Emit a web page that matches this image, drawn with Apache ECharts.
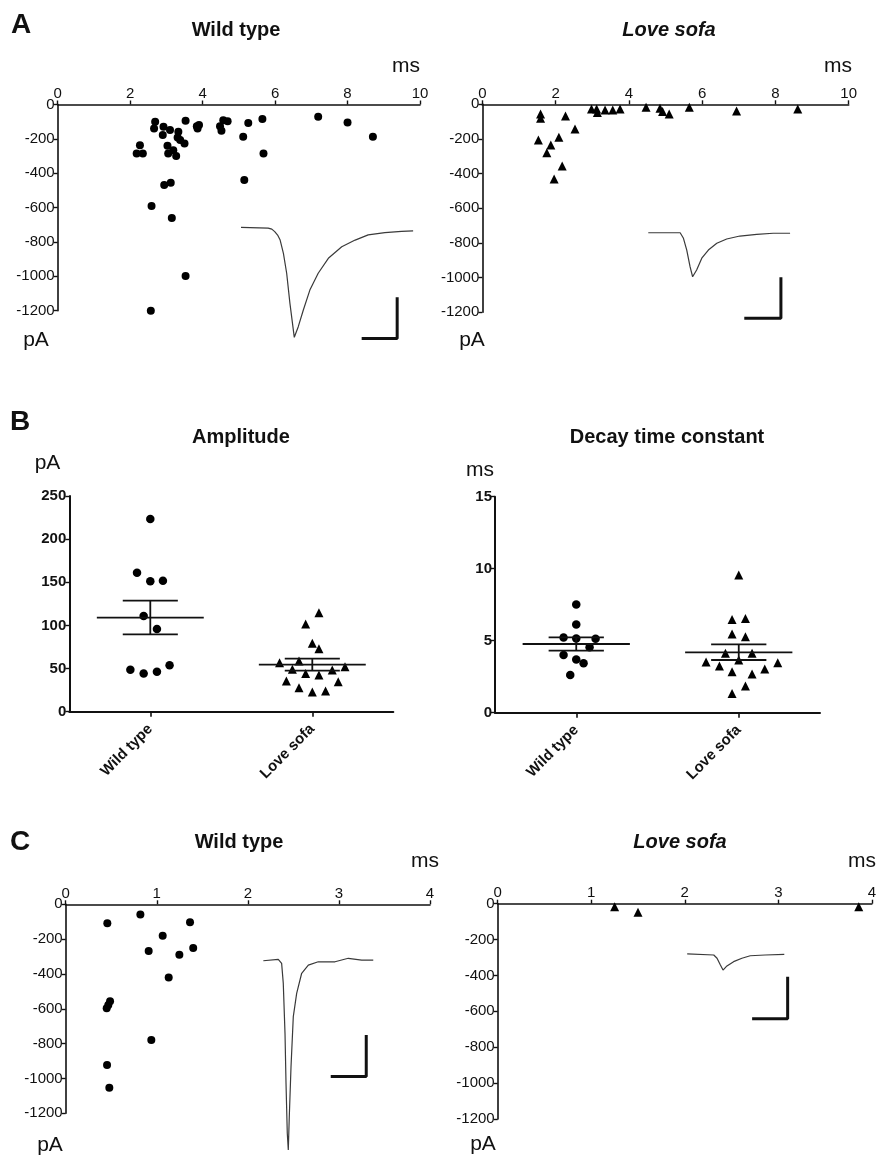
<!DOCTYPE html>
<html><head><meta charset="utf-8">
<script src="https://cdn.jsdelivr.net/npm/echarts@6/dist/echarts.min.js"></script>
<style>html,body{margin:0;padding:0;background:#fff}#c{width:879px;height:1162px}</style>
</head><body><div id="c"></div><script>
// ---------- Panel A : wild type (time to peak ms vs amplitude pA) ----------
const aWtTime = [2.69,2.66,2.92,2.90,3.10,3.33,3.53,3.84,3.86,3.90,4.57,4.69,4.48,4.52,5.26,5.65,7.19,8.00,8.70,5.12,5.68,5.15,2.27,2.18,2.35,3.03,3.05,3.19,3.27,3.31,3.38,3.50,2.94,3.12,2.59,3.15,3.53,2.57];
const aWtAmp  = [-101,-140,-130,-178,-149,-159,-95,-126,-140,-120,-91,-97,-126,-153,-107,-85,-72,-105,-188,-188,-285,-440,-237,-285,-285,-240,-285,-266,-300,-192,-207,-227,-469,-456,-591,-661,-998,-1200];
// ---------- Panel A : Love sofa ----------
const aLsTime = [1.59,1.59,2.27,2.53,1.53,2.09,1.87,1.76,2.18,1.96,2.98,3.12,3.14,3.35,3.56,3.76,4.47,4.85,4.92,5.10,5.65,6.94,8.61];
const aLsAmp  = [-56,-81,-67,-142,-206,-190,-235,-279,-356,-431,-27,-27,-48,-33,-33,-27,-17,-23,-42,-56,-17,-38,-27];
// example traces (in the panel's own ms / pA units)
const aWtTraceT = [5.06,5.81,5.91,5.99,6.07,6.14,6.23,6.32,6.41,6.53,6.64,6.78,6.96,7.19,7.47,7.84,8.21,8.57,9.03,9.49,9.81];
const aWtTraceI = [-715,-719,-725,-740,-760,-789,-866,-982,-1157,-1355,-1293,-1196,-1080,-982,-895,-828,-789,-759,-746,-738,-736];
const aLsTraceT = [4.53,5.40,5.49,5.58,5.67,5.74,5.85,5.99,6.17,6.40,6.67,7.03,7.49,7.94,8.40];
const aLsTraceI = [-741,-741,-773,-841,-937,-995,-956,-888,-841,-802,-777,-760,-750,-744,-744];
const aWtBarT = [9.37,9.37,8.39], aWtBarI = [-1122,-1362,-1362];
const aLsBarT = [8.15,8.15,7.15], aLsBarI = [-998,-1235,-1235];

// ---------- Panel B ----------
const bCategories = ['Wild type','Love sofa'];
const bWtAmp    = [223.3,161.1,151.1,151.9,110.9,95.8,48.7,44.4,46.4,53.7];
const bWtAmpJit = [0,-0.082,0,0.078,-0.041,0.041,-0.123,-0.041,0.041,0.119];
const bLsAmp    = [114.8,101.6,79.2,73.0,56.8,58.7,52.2,49.1,44.4,42.5,48.3,35.5,34.8,27.8,22.8,24.0];
const bLsAmpJit = [0.041,-0.041,0,0.041,-0.202,-0.082,0.202,-0.123,-0.041,0.041,0.123,-0.160,0.160,-0.082,0,0.082];
const bAmpMean  = [109.0,54.5];
const bAmpSemHi = [128.7,61.4];
const bAmpSemLo = [89.6,47.5];
const bWtDecay    = [7.52,6.13,5.23,5.16,5.14,4.54,4.00,3.70,3.43,2.62];
const bWtDecayJit = [0,0,-0.078,0,0.119,0.082,-0.078,0,0.045,-0.037];
const bLsDecay    = [9.56,6.48,6.55,5.46,5.28,4.12,4.12,3.52,3.24,3.66,3.47,3.03,2.85,2.69,1.85,1.34];
const bLsDecayJit = [0,-0.041,0.041,-0.041,0.041,-0.082,0.082,-0.201,-0.119,0,0.240,0.160,-0.041,0.082,0.041,-0.041];
const bDecayMean  = [4.77,4.19];
const bDecaySemHi = [5.23,4.75];
const bDecaySemLo = [4.31,3.66];

// ---------- Panel C ----------
const cWtTime = [0.457,0.82,1.365,1.065,0.911,1.248,1.40,1.131,0.487,0.468,0.450,0.94,0.454,0.479];
const cWtAmp  = [-109,-59,-103,-180,-268,-289,-251,-421,-556,-578,-597,-779,-922,-1053];
const cLsTime = [1.25,1.50,3.86];
const cLsAmp  = [-17,-48,-17];
const cWtTraceT = [2.17,2.334,2.371,2.389,2.408,2.419,2.433,2.444,2.455,2.474,2.499,2.536,2.591,2.664,2.773,2.957,3.103,3.25,3.377];
const cWtTraceI = [-324,-316,-339,-454,-741,-1028,-1315,-1410,-1220,-932,-645,-511,-396,-349,-330,-330,-310,-320,-320];
const cLsTraceT = [2.026,2.31,2.345,2.381,2.409,2.451,2.522,2.611,2.70,2.859,3.064];
const cLsTraceI = [-280,-286,-304,-342,-370,-347,-323,-304,-290,-286,-282];
const cWtBarT = [3.30,3.30,2.91], cWtBarI = [-750,-988,-988];
const cLsBarT = [3.10,3.10,2.72], cLsBarI = [-407,-641,-641];

// ---------- styling / layout ----------
const FONT = '"Liberation Sans", Arial, Helvetica, sans-serif';
const INK = '#111';
const axisLineStyle = {color: INK, width: 1.6};
const plain = v => String(v);

function valX(grid, max, interval) {
  return {gridIndex: grid, type: 'value', position: 'top', min: 0, max: max, interval: interval,
    axisLine: {show: true, onZero: false, lineStyle: axisLineStyle},
    axisTick: {show: true, length: 4, lineStyle: {color: INK, width: 1.4}},
    axisLabel: {fontSize: 15, color: INK, margin: 3, fontFamily: FONT, formatter: plain},
    splitLine: {show: false}};
}
function valY(grid, min, max, interval, bold) {
  return {gridIndex: grid, type: 'value', min: min, max: max, interval: interval,
    axisLine: {show: true, onZero: false, lineStyle: {color: INK, width: bold ? 2 : 1.6}},
    axisTick: {show: true, length: 4, lineStyle: {color: INK, width: 1.4}},
    axisLabel: {fontSize: 15, color: INK, margin: 3, fontFamily: FONT, fontWeight: bold ? 'bold' : 'normal', formatter: plain},
    splitLine: {show: false}};
}
function catX(grid) {
  return {gridIndex: grid, type: 'category', data: bCategories, boundaryGap: true, position: 'bottom',
    axisLine: {show: true, onZero: false, lineStyle: {color: INK, width: 2}},
    axisTick: {show: true, alignWithLabel: true, length: 5, lineStyle: {color: INK, width: 1.6}},
    axisLabel: {fontSize: 15, fontWeight: 'bold', color: INK, rotate: 45, margin: 15, fontFamily: FONT, interval: 0},
    splitLine: {show: false}};
}
function hiddenX(grid) {
  return {gridIndex: grid, type: 'value', min: -0.5, max: 1.5, show: false};
}
function pairs(xs, ys) { return xs.map((x, i) => [x, ys[i]]); }
function scatter(xi, yi, data, symbol, size) {
  return {type: 'scatter', xAxisIndex: xi, yAxisIndex: yi, data: data, symbol: symbol, symbolSize: size,
    itemStyle: {color: '#000', opacity: 1}, z: 4, silent: true};
}
function line(xi, yi, data, width, color, z) {
  return {type: 'line', xAxisIndex: xi, yAxisIndex: yi, data: data, showSymbol: false, symbol: 'none',
    lineStyle: {width: width, color: color}, clip: false, z: z, silent: true};
}
function meanSem(xi, yi, mean, hi, lo) {
  const out = [];
  for (let g = 0; g < mean.length; g++) {
    out.push(line(xi, yi, [[g - 0.33, mean[g]], [g + 0.33, mean[g]]], 1.8, INK, 5));
    out.push(line(xi, yi, [[g - 0.17, hi[g]], [g + 0.17, hi[g]]], 1.8, INK, 5));
    out.push(line(xi, yi, [[g - 0.17, lo[g]], [g + 0.17, lo[g]]], 1.8, INK, 5));
    out.push(line(xi, yi, [[g, lo[g]], [g, hi[g]]], 1.8, INK, 5));
  }
  return out;
}
function jitter(group, jit, ys) { return ys.map((y, i) => [group + jit[i], y]); }

const grids = [
  {left: 57.7, top: 104.5, width: 362.3, height: 206.2},
  {left: 482.3, top: 104.3, width: 366.4, height: 208},
  {left: 69.3, top: 496, width: 324, height: 215.7},
  {left: 495, top: 496.7, width: 325, height: 216},
  {left: 65.7, top: 904.3, width: 364.3, height: 209},
  {left: 497.7, top: 903.7, width: 376.3, height: 215.3}
];

const xAxes = [valX(0, 10, 2), valX(1, 10, 2), catX(2), hiddenX(2), catX(3), hiddenX(3), valX(4, 4, 1), valX(5, 4, 1)];
const yAxes = [valY(0, -1200, 0, 200), valY(1, -1200, 0, 200), valY(2, 0, 250, 50, true), valY(3, 0, 15, 5, true),
  valY(4, -1200, 0, 200), valY(5, -1200, 0, 200)];

const TRACE = '#3a3a3a';
const series = [
  line(0, 0, pairs(aWtTraceT, aWtTraceI), 1.2, TRACE, 2),
  line(0, 0, pairs(aWtBarT, aWtBarI), 3, INK, 2),
  scatter(0, 0, pairs(aWtTime, aWtAmp), 'circle', 8),
  line(1, 1, pairs(aLsTraceT, aLsTraceI), 1.2, TRACE, 2),
  line(1, 1, pairs(aLsBarT, aLsBarI), 3, INK, 2),
  scatter(1, 1, pairs(aLsTime, aLsAmp), 'triangle', 9),
  scatter(3, 2, jitter(0, bWtAmpJit, bWtAmp), 'circle', 8.5),
  scatter(3, 2, jitter(1, bLsAmpJit, bLsAmp), 'triangle', 9),
  ...meanSem(3, 2, bAmpMean, bAmpSemHi, bAmpSemLo),
  scatter(5, 3, jitter(0, bWtDecayJit, bWtDecay), 'circle', 8.5),
  scatter(5, 3, jitter(1, bLsDecayJit, bLsDecay), 'triangle', 9),
  ...meanSem(5, 3, bDecayMean, bDecaySemHi, bDecaySemLo),
  line(6, 4, pairs(cWtTraceT, cWtTraceI), 1.2, TRACE, 2),
  line(6, 4, pairs(cWtBarT, cWtBarI), 3, INK, 2),
  scatter(6, 4, pairs(cWtTime, cWtAmp), 'circle', 8),
  line(7, 5, pairs(cLsTraceT, cLsTraceI), 1.2, TRACE, 2),
  line(7, 5, pairs(cLsBarT, cLsBarI), 3, INK, 2),
  scatter(7, 5, pairs(cLsTime, cLsAmp), 'triangle', 9)
];

function txt(text, x, y, size, weight, style, align) {
  return {type: 'text', x: x, y: y, silent: true, z: 10,
    style: {text: text, fill: INK, fontSize: size, fontWeight: weight || 'normal', fontStyle: style || 'normal',
      fontFamily: FONT, align: align || 'center', verticalAlign: 'middle'}};
}
const labels = [
  txt('A', 21, 25, 28, 'bold'),
  txt('Wild type', 236, 30, 20, 'bold'),
  txt('Love sofa', 669, 30, 20, 'bold', 'italic'),
  txt('ms', 406, 66, 21),
  txt('ms', 838, 66, 21),
  txt('pA', 36, 340, 21),
  txt('pA', 472, 340, 21),
  txt('B', 20, 422, 28, 'bold'),
  txt('Amplitude', 241, 437, 20, 'bold'),
  txt('Decay time constant', 667, 437, 20, 'bold'),
  txt('pA', 47.5, 463, 21),
  txt('ms', 480, 470, 21),
  txt('C', 20, 842, 28, 'bold'),
  txt('Wild type', 239, 842, 20, 'bold'),
  txt('Love sofa', 680, 842, 20, 'bold', 'italic'),
  txt('ms', 425, 861, 21),
  txt('ms', 862, 861, 21),
  txt('pA', 50, 1145, 21),
  txt('pA', 483, 1144, 21)
];

const chart = echarts.init(document.getElementById('c'), null, {renderer: 'canvas'});
chart.setOption({
  animation: false,
  backgroundColor: '#fff',
  textStyle: {fontFamily: FONT},
  grid: grids,
  xAxis: xAxes,
  yAxis: yAxes,
  series: series,
  graphic: labels
});
</script></body></html>
